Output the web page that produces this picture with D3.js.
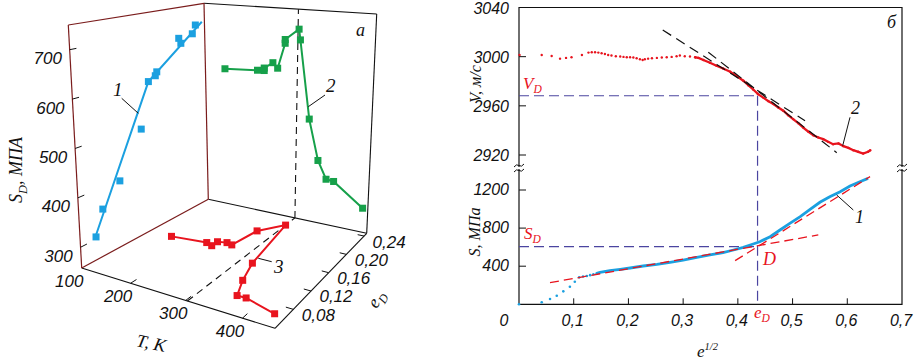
<!DOCTYPE html>
<html><head><meta charset="utf-8">
<script src="https://cdn.jsdelivr.net/npm/d3@7"></script>
<style>body{margin:0;background:#fff}svg{display:block}</style>
</head><body>
<svg id="c" width="915" height="360"></svg>
<script>
// ================= DATA =================
// Panel a (3D): ticks
const tTicks = [100, 200, 300, 400];
const eTicks = [0.08, 0.12, 0.16, 0.20, 0.24];
const sTicks = [300, 400, 500, 600, 700];
// curve 1: S_D vs e_D (left wall)
const curve1 = [[0.064,305],[0.077,355],[0.106,398],[0.143,492],[0.157,593],[0.168,602],[0.1705,610],[0.206,676],[0.209,663],[0.227,680],[0.232,700]];
const curve1Fit = [[0.062,303],[0.157,593],[0.242,705]];
// curve 2: S_D vs T (back wall)
const curve2 = [[146,591],[220,596],[234,597],[234,603],[252,618],[262,606],[277,667],[277,676],[305,703],[308,678],[329,495],[349,402],[367,362],[383,360],[446,312]];
// curve 3: e_D vs T (floor)
const curve3 = [[148,0.151],[218,0.157],[232,0.1535],[232,0.164],[248,0.167],[260,0.165],[269,0.204],[303,0.228],[326,0.141],[342,0.105],[359,0.075],[375,0.0755],[437,0.063]];
const tD = 303;

// Panel б: upper V(e^1/2)
const vTicks = [2920, 2960, 3000, 3040];
const sRTicks = [400, 800, 1200];
const xTicks = [0.1, 0.2, 0.3, 0.4, 0.5, 0.6];
const xLabels = ["0,1","0,2","0,3","0,4","0,5","0,6","0,7"];
const vSparse = [[0.001,3001.4],[0.0415,3001.4],[0.0597,3000.6],[0.075,2998.4],[0.086,2999],[0.096,2999.5],[0.115,3001.4],[0.127,3003.3],[0.133,3003.6],[0.139,3003.6],[0.145,3003.3],[0.151,3002.8],[0.157,3002.2],[0.163,3001.4],[0.169,3000.9],[0.177,3000.3],[0.185,3000.1],[0.191,2999.8],[0.197,2999.5],[0.203,2999.5],[0.209,2999.3],[0.215,2998.7],[0.221,2997.9],[0.226,2997.3],[0.23,2997.9],[0.236,2998.4],[0.243,2998.7],[0.252,2999],[0.261,2999.3],[0.27,2999.5],[0.279,2999.8],[0.288,3000.3],[0.294,3000.9],[0.303,3000.3],[0.3125,3000.1],[0.322,2999.5]];
const vDense = [[0.322,2999.5],[0.328,2999],[0.337,2997.3],[0.349,2995.1],[0.361,2992.6],[0.373,2990.4],[0.386,2987.7],[0.398,2984.2],[0.41,2980.4],[0.419,2976.8],[0.428,2973.3],[0.437,2969.5],[0.447,2966.5],[0.456,2963.8],[0.465,2961.4],[0.474,2958.7],[0.483,2956],[0.492,2952.4],[0.501,2949.2],[0.511,2945.7],[0.52,2942.1],[0.529,2938.9],[0.538,2936.1],[0.547,2934.2],[0.556,2932.9],[0.565,2930.7],[0.574,2928.8],[0.584,2929.4],[0.593,2927.2],[0.602,2925.8],[0.611,2923.9],[0.62,2922.6],[0.629,2921.2],[0.638,2922.6],[0.642,2923.9]];
const vTangA = [[0.2627,3021.7],[0.5228,2947.9]];
const vTangB = [[0.346,3003.6],[0.5807,2921.9]];
const vD = 2968.2, eD = 0.436, sD = 606;
// lower S(e^1/2)
const sSparse = [[0.0,0],[0.0415,21],[0.0567,56],[0.069,90],[0.081,136],[0.093,185],[0.102,237],[0.110,283],[0.117,292],[0.124,297],[0.130,306],[0.136,315],[0.142,326]];
const sLine = [[0.142,326],[0.148,336],[0.166,353],[0.185,367],[0.203,381],[0.227,402],[0.252,420],[0.276,441],[0.3,465],[0.325,493],[0.349,518],[0.373,542],[0.392,570],[0.41,598],[0.428,633],[0.44,657],[0.459,710],[0.477,780],[0.495,850],[0.514,920],[0.532,997],[0.55,1071],[0.568,1130],[0.587,1182],[0.605,1242],[0.623,1287],[0.638,1322]];
const sTang1 = [[0.0567,227],[0.547,728]];
const sTang2 = [[0.395,458],[0.6416,1340]];

// ================= DRAW =================
const svg = d3.select('#c');
const SANS = '"Liberation Sans", Arial, sans-serif';
const SERIF = '"Liberation Serif", "Times New Roman", serif';
const BLUE = '#1ba0e0', GREEN = '#16a04a', RED = '#e8141e', PURP = '#4b45a0', WALL = '#7a1c1c';

// --- 3D projection: scales to unit cube, trilinear between box corners
const uS = d3.scaleLinear().domain([100, 200, 300, 400, 457]).range([0, 0.253, 0.538, 0.832, 1]);
const vS = d3.scaleLinear().domain([0.0386, 0.246]).range([0, 1]);
const wS = d3.scaleLinear().domain([258, 750]).range([0, 1]);
const K = {'000':[81.7,268],'100':[275,328.3],'010':[208.3,199.3],'110':[366.7,233.3],
           '001':[68.3,25],'101':[275.9,62],'011':[204,3.3],'111':[376.7,14]};
function P(u, v, w) {
  let x = 0, y = 0;
  for (const a of [0,1]) for (const b of [0,1]) for (const c of [0,1]) {
    const wt = (a ? u : 1-u) * (b ? v : 1-v) * (c ? w : 1-w);
    const k = K['' + a + b + c]; x += wt * k[0]; y += wt * k[1];
  }
  return [x, y];
}
const g3 = svg.append('g');
function seg(p, q, col, w, dash) {
  const a = P(...p), b = P(...q);
  g3.append('line').attr('x1',a[0]).attr('y1',a[1]).attr('x2',b[0]).attr('y2',b[1])
    .attr('stroke',col).attr('stroke-width',w||1).attr('stroke-dasharray',dash||null);
}
[[[0,1,0],[1,1,0]],[[1,1,0],[1,1,1]],[[1,1,1],[0,1,1]],[[0,0,0],[1,0,0]],[[1,0,0],[1,1,0]]]
  .forEach(e => seg(e[0], e[1], '#111', 1.1));
[[[0,0,0],[0,0,1]],[[0,0,1],[0,1,1]],[[0,1,1],[0,1,0]],[[0,1,0],[0,0,0]]]
  .forEach(e => seg(e[0], e[1], WALL, 1.2));
// dashed projection lines at T_D
seg([uS(tD),0,0],[uS(tD),1,0],'#111',1.1,'7,5');
seg([uS(tD),1,0],[uS(tD),1,1],'#111',1.1,'7,5');
// ticks
sTicks.forEach(s => seg([0,0,wS(s)],[0,0.05,wS(s)],'#111',1));
tTicks.slice(1).forEach(t => seg([uS(t),0,0],[uS(t),0.05,0],'#111',1));
eTicks.forEach(e => seg([1,vS(e),0],[0.96,vS(e),0],'#111',1));
// tick labels
function lab(x, y, txt, size) {
  return svg.append('text').attr('x',x).attr('y',y).attr('text-anchor','middle')
    .attr('dominant-baseline','middle').attr('font-family',SANS).attr('font-style','italic')
    .attr('font-size',size).attr('fill','#111').text(txt);
}
sTicks.forEach(s => { const p = P(0,0,wS(s)); lab(p[0]-22, p[1]+10, s, 17); });
tTicks.forEach(t => { const p = P(uS(t),0,0); lab(p[0]-12.5, p[1]+14.5, t, 17); });
eTicks.forEach(e => { const p = P(1,vS(e),0); lab(p[0]+25, p[1]+7, e.toFixed(2).replace('.',','), 17); });

// curves
const ln = d3.line();
function markers(pts, col) {
  g3.append('g').selectAll('rect').data(pts).join('rect')
    .attr('x', d => d[0]-3.5).attr('y', d => d[1]-3.5).attr('width',7).attr('height',7).attr('fill',col);
}
const p1 = curve1.map(d => P(0, vS(d[0]), wS(d[1])));
const p1f = curve1Fit.map(d => P(0, vS(d[0]), wS(d[1])));
g3.append('path').attr('d', ln(p1f)).attr('fill','none').attr('stroke',BLUE).attr('stroke-width',2);
markers(p1, BLUE);
const p2 = curve2.map(d => P(uS(d[0]), 1, wS(d[1])));
g3.append('path').attr('d', ln(p2)).attr('fill','none').attr('stroke',GREEN).attr('stroke-width',2);
markers(p2, GREEN);
const p3 = curve3.map(d => P(uS(d[0]), vS(d[1]), 0));
g3.append('path').attr('d', ln(p3)).attr('fill','none').attr('stroke',RED).attr('stroke-width',2);
markers(p3, RED);

// leaders + curve numbers (panel a)
function leader(x1,y1,x2,y2){ svg.append('line').attr('x1',x1).attr('y1',y1).attr('x2',x2).attr('y2',y2).attr('stroke','#111').attr('stroke-width',1); }
function stext(x, y, parts, size, col, anchor, transform) {
  const t = svg.append('text').attr('font-family',SERIF).attr('font-style','italic')
    .attr('font-size',size).attr('fill',col||'#111').attr('text-anchor',anchor||'start');
  if (transform) t.attr('transform',transform); else t.attr('x',x).attr('y',y);
  parts.forEach(p => {
    const ts = t.append('tspan').text(p.t);
    if (p.sub) ts.attr('font-size', size*0.68).attr('dy', size*0.25);
    if (p.sup) ts.attr('font-size', size*0.62).attr('dy', -size*0.42);
    if (p.back) ts.attr('dy', p.back);
  });
  return t;
}
leader(121.7,98.3,138.3,113.3); stext(113,96,[{t:'1'}],19);
leader(325,95,308.3,106.7); stext(326,92,[{t:'2'}],19);
leader(258.3,258.3,271.7,261.7); stext(274,273,[{t:'3'}],19);
stext(356,36,[{t:'a'}],18);
stext(0,0,[{t:'S'},{t:'D',sub:true},{t:', МПА',back:-4.5}],18,'#111','middle','translate(22,170) rotate(-90)');
stext(0,0,[{t:'T, K'}],18,'#111','middle','translate(150,349) rotate(12)');
stext(0,0,[{t:'e'},{t:'D',sub:true}],18,'#111','middle','translate(381,302) rotate(-60)');

// ================= PANEL б =================
const x = d3.scaleLinear().domain([0, 0.7]).range([519, 902]);
const yV = d3.scaleLinear().domain([2920, 3040]).range([155, 7.5]);
const yS = d3.scaleLinear().domain([0, 1200]).range([304.3, 190]);
const gR = svg.append('g');
const yTop = yV(3040), yBot = yS(0);
// frame
gR.append('path').attr('d', `M${x(0)},${yTop}H${x(0.7)}V${yBot}H${x(0)}Z`)
  .attr('fill','none').attr('stroke','#111').attr('stroke-width',1.2);
// break marks
[x(0), x(0.7)].forEach(bx => [165.5, 170.5].forEach(by => {
  gR.append('path').attr('d', `M${bx-5},${by+1.5} q2.5,-3.5 5,-1.5 t5,-1.5`)
    .attr('fill','none').attr('stroke','#111').attr('stroke-width',1);
}));
gR.append('rect').attr('x',x(0)-1).attr('y',167).attr('width',2).attr('height',2).attr('fill','#fff');
gR.append('rect').attr('x',x(0.7)-1).attr('y',167).attr('width',2).attr('height',2).attr('fill','#fff');
// ticks
vTicks.slice(0,3).forEach(v => gR.append('line').attr('x1',x(0)).attr('x2',x(0)+7).attr('y1',yV(v)).attr('y2',yV(v)).attr('stroke','#111'));
sRTicks.forEach(s => gR.append('line').attr('x1',x(0)).attr('x2',x(0)+7).attr('y1',yS(s)).attr('y2',yS(s)).attr('stroke','#111'));
xTicks.forEach(t => gR.append('line').attr('x1',x(t)).attr('x2',x(t)).attr('y1',yBot).attr('y2',yBot-6).attr('stroke','#111'));
function rlab(xx, yy, txt, anchor) {
  svg.append('text').attr('x',xx).attr('y',yy).attr('text-anchor',anchor).attr('dominant-baseline','middle')
    .attr('font-family',SANS).attr('font-style','italic').attr('font-size',16).attr('fill','#111').text(txt);
}
vTicks.forEach(v => rlab(509, yV(v)+2, v, 'end'));
sRTicks.forEach(s => rlab(509, yS(s)+1, s, 'end'));
rlab(504, 322, '0', 'middle');
xLabels.forEach((l,i) => rlab(x(0.1*(i+1)) - 1, 322, l, 'middle'));

// purple dashed guides
const dashP = '10,5';
gR.append('line').attr('x1',x(0)).attr('x2',x(eD)).attr('y1',yV(vD)).attr('y2',yV(vD)).attr('stroke',PURP).attr('stroke-width',1.2).attr('stroke-dasharray',dashP);
gR.append('line').attr('x1',x(eD)).attr('x2',x(eD)).attr('y1',yV(vD)).attr('y2',yBot).attr('stroke',PURP).attr('stroke-width',1.2).attr('stroke-dasharray',dashP);
gR.append('line').attr('x1',x(0)).attr('x2',x(eD)).attr('y1',yS(sD)).attr('y2',yS(sD)).attr('stroke',PURP).attr('stroke-width',1.2).attr('stroke-dasharray',dashP);

// upper curve
const lineV = d3.line().x(d => x(d[0])).y(d => yV(d[1]));
gR.append('path').attr('d', lineV(vDense)).attr('fill','none').attr('stroke',RED).attr('stroke-width',2.3);
gR.append('g').selectAll('circle').data(vSparse.concat(vDense)).join('circle')
  .attr('cx', d => x(d[0])).attr('cy', d => yV(d[1])).attr('r',1.2).attr('fill',RED);
[vTangA, vTangB].forEach(l => gR.append('path').attr('d', lineV(l)).attr('fill','none')
  .attr('stroke','#111').attr('stroke-width',1.2).attr('stroke-dasharray','10,6'));

// lower curve
const lineS = d3.line().x(d => x(d[0])).y(d => yS(d[1]));
gR.append('path').attr('d', lineS(sLine)).attr('fill','none').attr('stroke',BLUE).attr('stroke-width',2.8);
gR.append('g').selectAll('circle').data(sSparse).join('circle')
  .attr('cx', d => x(d[0])).attr('cy', d => yS(d[1])).attr('r',1.3).attr('fill',BLUE);
[sTang1, sTang2].forEach(l => gR.append('path').attr('d', lineS(l)).attr('fill','none')
  .attr('stroke',RED).attr('stroke-width',1.3).attr('stroke-dasharray','9,5'));

// labels panel б
stext(523,89,[{t:'V'},{t:'D',sub:true}],17,RED);
stext(524,239,[{t:'S'},{t:'D',sub:true}],17,RED);
stext(754,318,[{t:'e'},{t:'D',sub:true}],17,RED);
stext(763,265,[{t:'D'}],18,RED);
leader(850,117.3,842.7,145.7); stext(851,114,[{t:'2'}],18);
leader(853.3,210,836.7,195); stext(855,223,[{t:'1'}],18);
stext(887,28,[{t:'б'}],18);
stext(697,357,[{t:'e'},{t:'1/2',sup:true}],17);
stext(0,0,[{t:'V, м/с'}],16,'#111','middle','translate(481,84) rotate(-90)');
stext(0,0,[{t:'S, МПа'}],16,'#111','middle','translate(480,232) rotate(-90)');
</script>
</body></html>
